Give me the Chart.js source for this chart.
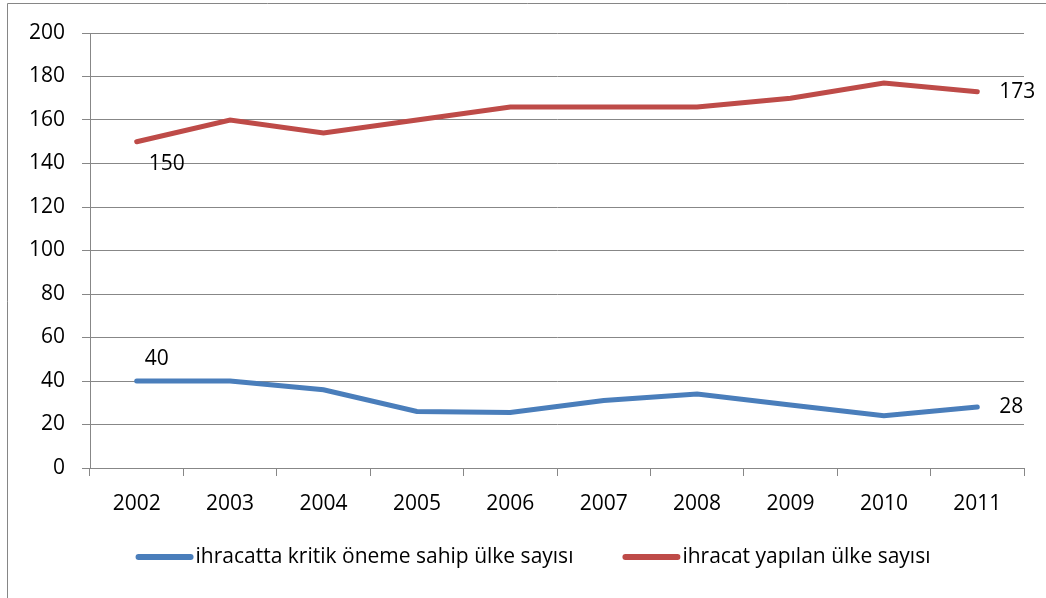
<!DOCTYPE html>
<html>
<head>
<meta charset="utf-8">
<script src="https://cdn.jsdelivr.net/npm/chart.js@4/dist/chart.umd.min.js"></script>
<style>
  html, body { margin: 0; padding: 0; background: #fff; }
  #wrap { width: 1046px; height: 598px; }
</style>
</head>
<body>
<div id="wrap"><canvas id="grafico" width="1046" height="598"></canvas></div>
<script>
const yillar = ['2002', '2003', '2004', '2005', '2006', '2007', '2008', '2009', '2010', '2011'];
const kritikUlke = [40, 40, 36, 26, 25.5, 31, 34, 29, 24, 28];
const ihracatUlke = [150, 160, 154, 160, 166, 166, 166, 170, 177, 173];
const seriAdlari = ['ihracatta kritik öneme sahip ülke sayısı', 'ihracat yapılan ülke sayısı'];
const renkler = ['#4A7EBB', '#BE4B48'];
const yTicks = [0, 20, 40, 60, 80, 100, 120, 140, 160, 180, 200];

const FONT = 'Open Sans';
const FSIZE = 21;
const GRID = '#878787';

// etiketler: ilk ve son noktalar
const etiketler = {
  id: 'etiketler',
  afterDatasetsDraw(chart) {
    const ctx = chart.ctx;
    ctx.save();
    ctx.font = FSIZE + 'px "' + FONT + '"';
    ctx.fillStyle = '#000';
    ctx.textBaseline = 'middle';
    // kırmızı seri
    let m = chart.getDatasetMeta(1);
    let p0 = m.data[0], pn = m.data[m.data.length - 1];
    ctx.textAlign = 'center';
    ctx.fillText(String(ihracatUlke[0]), p0.x + 30, p0.y + 22);
    ctx.textAlign = 'left';
    ctx.fillText(String(ihracatUlke[ihracatUlke.length - 1]), pn.x + 22, pn.y);
    // mavi seri
    m = chart.getDatasetMeta(0);
    p0 = m.data[0]; pn = m.data[m.data.length - 1];
    ctx.textAlign = 'center';
    ctx.fillText(String(kritikUlke[0]), p0.x + 20, p0.y - 22);
    ctx.textAlign = 'left';
    ctx.fillText(String(kritikUlke[kritikUlke.length - 1]), pn.x + 22, pn.y);
    ctx.restore();
  }
};

// lejant ve çerçeve
const lejant = {
  id: 'lejant',
  beforeDraw(chart) {
    const ctx = chart.ctx;
    ctx.save();
    ctx.strokeStyle = '#868686';
    ctx.lineWidth = 1;
    ctx.beginPath();
    ctx.moveTo(7.5, 700);
    ctx.lineTo(7.5, 3.5);
    ctx.lineTo(1100, 3.5);
    ctx.stroke();
    ctx.restore();
  },
  afterDraw(chart) {
    const ctx = chart.ctx;
    ctx.save();
    ctx.font = FSIZE + 'px "' + FONT + '"';
    const cizgi = 58, ara = 2, bosluk = 49;
    const genislik = chart.data.datasets.reduce((s, d) => s + cizgi + ara + ctx.measureText(d.label).width, 0) + bosluk;
    let x = 533 - genislik / 2;
    const y = 557;
    chart.data.datasets.forEach(d => {
      ctx.strokeStyle = d.borderColor;
      ctx.lineWidth = 6;
      ctx.lineCap = 'round';
      ctx.beginPath();
      ctx.moveTo(x + 3, y);
      ctx.lineTo(x + cizgi - 3, y);
      ctx.stroke();
      x += cizgi + ara;
      ctx.fillStyle = '#000';
      ctx.textBaseline = 'middle';
      ctx.textAlign = 'left';
      ctx.fillText(d.label, x, y);
      x += ctx.measureText(d.label).width + bosluk;
    });
    ctx.restore();
  }
};

new Chart(document.getElementById('grafico'), {
  type: 'line',
  data: {
    labels: yillar,
    datasets: [
      { label: seriAdlari[0], data: kritikUlke, borderColor: renkler[0], backgroundColor: renkler[0],
        borderWidth: 5, pointRadius: 0, tension: 0, borderCapStyle: 'round' },
      { label: seriAdlari[1], data: ihracatUlke, borderColor: renkler[1], backgroundColor: renkler[1],
        borderWidth: 5, pointRadius: 0, tension: 0, borderCapStyle: 'round' }
    ]
  },
  options: {
    responsive: false,
    animation: false,
    layout: { padding: { top: 33, right: 22, left: 0, bottom: 80 } },
    plugins: {
      legend: { display: false },
      tooltip: { enabled: false }
    },
    scales: {
      x: {
        offset: true,
        grid: { offset: true, drawOnChartArea: false, color: GRID, tickLength: 8 },
        border: { color: GRID, width: 1 },
        ticks: { color: '#000', font: { family: FONT, size: FSIZE }, padding: 15, maxRotation: 0 },
        afterFit(s) { s.height = 50; }
      },
      y: {
        min: 0, max: 200,
        afterBuildTicks(s) { s.ticks = yTicks.map(v => ({ value: v })); },
        grid: { color: GRID, tickLength: 8 },
        border: { color: GRID, width: 1 },
        ticks: { color: '#000', font: { family: FONT, size: FSIZE }, padding: 17 },
        afterFit(s) { s.width = 90; }
      }
    }
  },
  plugins: [etiketler, lejant]
});
</script>
</body>
</html>
